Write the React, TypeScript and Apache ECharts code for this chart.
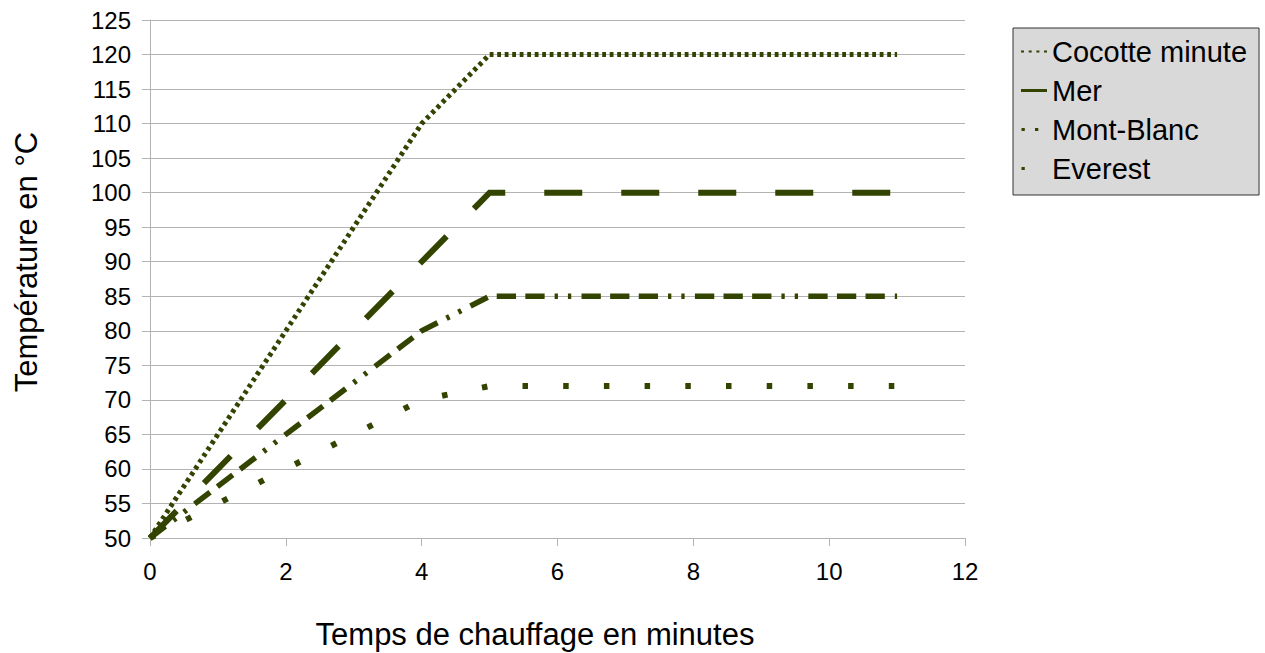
import React, { useEffect, useRef } from "react";
import * as echarts from "echarts";

const minutes = [0, 4, 5, 11];
const cocotteMinute = [50, 110, 120, 120];
const mer = [50, 90, 100, 100];
const montBlanc = [50, 80, 85, 85];
const everest = [50, 70, 72, 72];
const seriesNames = ["Cocotte minute", "Mer", "Mont-Blanc", "Everest"];
const xTitle = "Temps de chauffage en minutes";
const yTitle = "Température en °C";

const LINE = "#334400";
const FONT = "'Liberation Sans', Arial, sans-serif";

// legend icon shapes (26 x 3 box); the trailing zero-area subpath fixes the bounding box
const BOX = "M0,0L26,0L26,3L26,0Z";
const iconCocotte = "path://M0,0.5h3v2h-3z M7.7,0.5h3v2h-3z M15.4,0.5h3v2h-3z M23,0.5h3v2h-3z " + BOX;
const iconMer = "path://M0,0h26v3h-26z";
const iconMontBlanc = "path://M0.5,0h3.3v3h-3.3z M14,0h3.3v3h-3.3z " + BOX;
const iconEverest = "path://M0.5,0h3.3v3h-3.3z " + BOX;

function pairs(ys: number[]) {
  return minutes.map((m, i) => [m, ys[i]]);
}

export default function App() {
  const ref = useRef<HTMLDivElement>(null);
  useEffect(() => {
    if (!ref.current) return;
    const chart = echarts.init(ref.current, undefined, { renderer: "svg" });
    const mk = (name: string, ys: number[], width: number, type: number[]) => ({
      name,
      type: "line",
      data: pairs(ys),
      symbol: "none",
      showSymbol: false,
      lineStyle: { color: LINE, width, type, cap: "butt", join: "miter" },
      itemStyle: { color: LINE },
    });
    const legItem = (name: string, icon: string) => ({
      name,
      icon,
      itemStyle: { color: LINE, borderWidth: 0 },
    });
    chart.setOption({
      animation: false,
      textStyle: { fontFamily: FONT },
      grid: { left: 150, right: 300, top: 20, bottom: 115, containLabel: false },
      xAxis: {
        type: "value",
        min: 0,
        max: 12,
        interval: 2,
        axisLine: { show: true, lineStyle: { color: "#b3b3b3", width: 1 } },
        axisTick: { show: true, length: 8, lineStyle: { color: "#b3b3b3" } },
        splitLine: { show: false },
        axisLabel: { color: "#000", fontSize: 24, margin: 21, fontFamily: FONT },
      },
      yAxis: {
        type: "value",
        min: 50,
        max: 125,
        interval: 5,
        axisLine: { show: true, lineStyle: { color: "#b3b3b3", width: 1 } },
        axisTick: { show: true, length: 8, lineStyle: { color: "#b3b3b3" } },
        splitLine: { show: true, lineStyle: { color: "#b3b3b3", width: 1 } },
        axisLabel: { color: "#000", fontSize: 24, margin: 19, fontFamily: FONT },
      },
      legend: {
        orient: "vertical",
        left: 1013,
        top: 28,
        padding: [9, 12, 12, 8],
        itemGap: 10,
        itemWidth: 26,
        itemHeight: 3,
        symbolKeepAspect: false,
        backgroundColor: "#d9d9d9",
        borderColor: "#333333",
        borderWidth: 1,
        borderRadius: 0,
        textStyle: { color: "#000", fontSize: 29, fontFamily: FONT },
        data: [
          legItem(seriesNames[0], iconCocotte),
          legItem(seriesNames[1], iconMer),
          legItem(seriesNames[2], iconMontBlanc),
          legItem(seriesNames[3], iconEverest),
        ],
      },
      graphic: [
        {
          type: "text",
          x: 535,
          y: 634,
          style: {
            text: xTitle,
            fontSize: 31,
            fontFamily: FONT,
            fill: "#000",
            textAlign: "center",
            textVerticalAlign: "middle",
          },
        },
        {
          type: "text",
          x: 26,
          y: 262,
          rotation: Math.PI / 2,
          style: {
            text: yTitle,
            fontSize: 31,
            fontFamily: FONT,
            fill: "#000",
            textAlign: "center",
            textVerticalAlign: "middle",
          },
        },
      ],
      series: [
        mk(seriesNames[0], cocotteMinute, 5, [3.8, 3.7]),
        mk(seriesNames[1], mer, 6, [38, 39]),
        mk(seriesNames[2], montBlanc, 5.5, [19.3, 10, 3.3, 10, 3.3, 10.3, 19.3, 9.3, 19.3, 9.3]),
        mk(seriesNames[3], everest, 6, [5.5, 35.2]),
      ],
    });
    return () => chart.dispose();
  }, []);
  return <div ref={ref} style={{ width: 1265, height: 653, position: "absolute", left: 0, top: 0 }} />;
}
